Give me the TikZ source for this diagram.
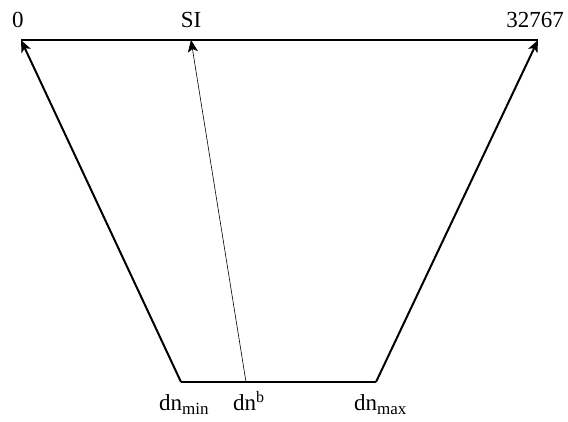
\documentclass[tikz,border=0pt]{standalone}
\usepackage{fontspec}
\setmainfont{Liberation Serif}
\usetikzlibrary{arrows.meta}
\newcommand{\mysub}[1]{\raisebox{-4pt}{\fontsize{17}{18}\selectfont #1}}
\newcommand{\mysup}[1]{\raisebox{8pt}{\fontsize{16}{18}\selectfont #1}}
\begin{document}
\begin{tikzpicture}[
  lbl/.style={inner sep=0pt,font=\fontsize{23}{25}\selectfont},
  thick line/.style={line width=2pt},
  arr/.style={-{Stealth[length=12pt,width=10pt,inset=3pt]}},
  thinarr/.style={line width=0.6pt,-{Stealth[length=12pt,width=10pt,inset=3pt]}}]
\useasboundingbox (0pt,0pt) rectangle (568pt,-421pt);
\coordinate (tl) at (21pt,-40pt);
\coordinate (tr) at (538pt,-40pt);
\coordinate (ts) at (191pt,-40pt);
\coordinate (bl) at (181pt,-382pt);
\coordinate (br) at (376pt,-382pt);
\coordinate (bb) at (246pt,-382pt);
\draw[thick line] (tl) -- (tr);
\draw[thick line] (bl) -- (br);
\draw[thick line,arr] (bl) -- (tl);
\draw[thick line,arr] (br) -- (tr);
\draw[thinarr] (bb) -- (ts);
\node[lbl,anchor=base] (l0) at (18pt,-27pt) {0};
\node[lbl,anchor=base] (lsi) at (191pt,-27pt) {SI};
\node[lbl,anchor=base east] (lmax) at (564pt,-27pt) {32767};
\node[lbl,anchor=base west] (dmin) at (159pt,-410pt) {dn\mysub{min}};
\node[lbl,anchor=base west] (db) at (233pt,-410pt) {dn\mysup{b}};
\node[lbl,anchor=base west] (dmax) at (354pt,-410pt) {dn\mysub{max}};
\end{tikzpicture}
\end{document}
